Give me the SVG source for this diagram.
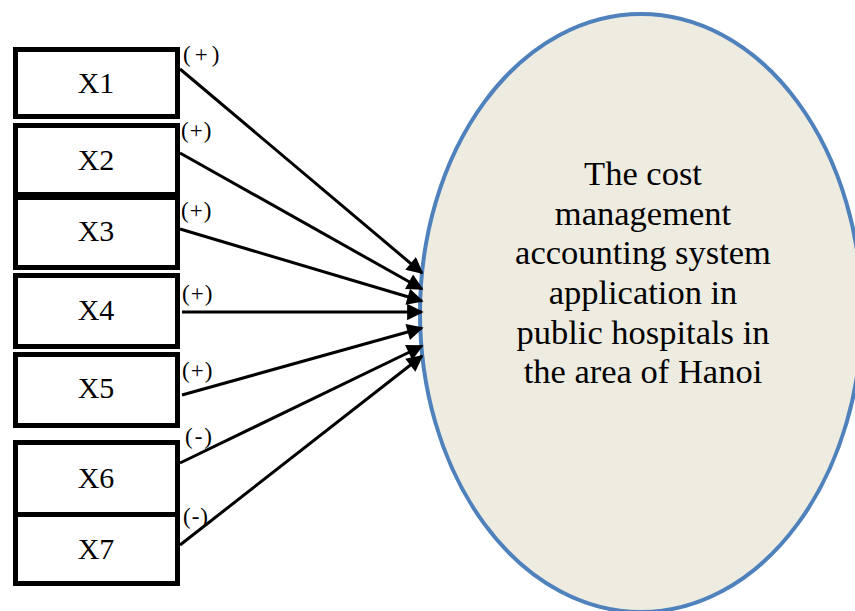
<svg xmlns="http://www.w3.org/2000/svg" width="855" height="611" viewBox="0 0 855 611">
<style>
.box{fill:#fff;stroke:#000;stroke-width:5}
.lbl{font-family:"Liberation Serif",serif;font-size:30px;text-anchor:middle;fill:#000}
.sign{font-family:"Liberation Serif",serif;font-size:23px;letter-spacing:1px;fill:#000}
.conn{stroke:#000;stroke-width:3;fill:none;marker-end:url(#arr)}
.main{font-family:"Liberation Serif",serif;font-size:34.5px;text-anchor:middle;fill:#000}
</style>
<defs>
<marker id="arr" viewBox="0 0 10 10" refX="9" refY="5" markerWidth="6.5" markerHeight="5.5" markerUnits="strokeWidth" orient="auto">
<path d="M0,0 L10,5 L0,10 z" fill="#000"/>
</marker>
</defs>
<rect width="855" height="611" fill="#fff"/>
<g id="outcome">
<ellipse cx="641" cy="313" rx="221" ry="299" fill="#eeece1" stroke="#4f81bd" stroke-width="4"/>
<text class="main" x="643" y="185">The cost</text>
<text class="main" x="643" y="225">management</text>
<text class="main" x="643" y="264">accounting system</text>
<text class="main" x="643" y="304">application in</text>
<text class="main" x="643" y="344">public hospitals in</text>
<text class="main" x="643" y="383">the area of Hanoi</text>
</g>
<g id="x1"><rect class="box" x="15.5" y="49.5" width="162" height="67"/><text class="lbl" x="96" y="93">X1</text></g>
<g id="x2"><rect class="box" x="15.5" y="125.5" width="162" height="69"/><text class="lbl" x="96" y="170">X2</text></g>
<g id="x3"><rect class="box" x="15.5" y="197.5" width="162" height="70"/><text class="lbl" x="96" y="241">X3</text></g>
<g id="x4"><rect class="box" x="15.5" y="275.5" width="162" height="71"/><text class="lbl" x="96" y="320">X4</text></g>
<g id="x5"><rect class="box" x="15.5" y="354.5" width="162" height="71"/><text class="lbl" x="96" y="398">X5</text></g>
<g id="x6"><rect class="box" x="15.5" y="442.5" width="162" height="72"/><text class="lbl" x="96" y="488">X6</text></g>
<g id="x7"><rect class="box" x="15.5" y="514.5" width="162" height="69"/><text class="lbl" x="96" y="559">X7</text></g>
<g id="connectors">
<line class="conn" x1="180" y1="69" x2="422" y2="273"/>
<line class="conn" x1="180" y1="153" x2="422" y2="289"/>
<line class="conn" x1="180" y1="229" x2="422" y2="301"/>
<line class="conn" x1="182" y1="312" x2="422" y2="312"/>
<line class="conn" x1="182" y1="395" x2="422" y2="328"/>
<line class="conn" x1="180" y1="463" x2="422" y2="346"/>
<line class="conn" x1="180" y1="545" x2="422" y2="356"/>
<text class="sign" x="183" y="62" style="letter-spacing:4px">(+)</text>
<text class="sign" x="181" y="138">(+)</text>
<text class="sign" x="181" y="218">(+)</text>
<text class="sign" x="182" y="301">(+)</text>
<text class="sign" x="182" y="378">(+)</text>
<text class="sign" x="185" y="444" style="letter-spacing:2px">(-)</text>
<text class="sign" x="183" y="524">(-)</text>
</g>
</svg>
